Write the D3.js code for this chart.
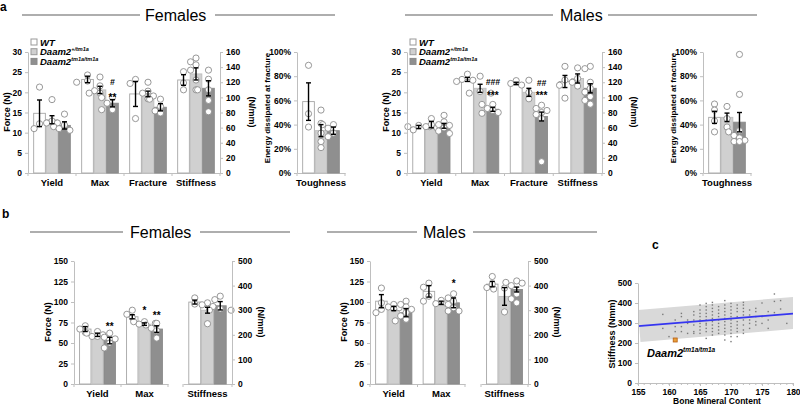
<!DOCTYPE html>
<html><head><meta charset="utf-8">
<script src="https://cdn.jsdelivr.net/npm/d3@7/dist/d3.min.js"></script>
<style>
body{margin:0;background:#fff}
svg{display:block}
text{font-family:"Liberation Sans",Arial,sans-serif}
</style>
</head><body>
<svg id="chart" width="800" height="405"></svg>
<script>
// ================= DATA =================
const genotypes = ["WT", "Daam2", "Daam2"];
const genotypeSup = ["", "+/tm1a", "tm1a/tm1a"];

const catsA = ["Yield", "Max", "Fracture", "Stiffness"];
const catsB = ["Yield", "Max"];
const catsStiff = ["Stiffness"];
const catsTough = ["Toughness"];

const forceTicksA = [0, 5, 10, 15, 20, 25, 30];
const stiffTicksA = [0, 20, 40, 60, 80, 100, 120, 140, 160];
const toughTicks = [0, 20, 40, 60, 80, 100];
const forceTicksB = [0, 25, 50, 75, 100, 125, 150];
const stiffTicksB = [0, 100, 200, 300, 400, 500];
const bmcTicks = [155, 160, 165, 170, 175, 180];
const stiffTicksC = [0, 100, 200, 300, 400, 500];

// ---- Panel a, Females (Yield/Max/Fracture in N, Stiffness in N/mm)
const aFemMean = [[14.8, 13.2, 11.8], [23.2, 20.6, 17.3], [19.6, 19.6, 16.3], [123, 131, 112]];
const aFemErr  = [[3.3, 1.0, 0.9], [0.8, 0.9, 0.9], [3.1, 0.7, 0.9], [7, 8, 10]];
const aFemPts  = [
  [[21.3, 12.2, 11.0], [18.2, 12.9, 12.4, 12.4], [14.6, 11.9, 11.5, 11.0, 10.6]],
  [[24.3, 22.5, 22.8], [23.8, 21.6, 20.4, 19.8, 19.8], [18.7, 18.7, 17.3, 15.7, 15.7]],
  [[23.2, 22.2, 13.5], [22.5, 20.3, 19.8, 19.1, 18.4], [18.3, 18.3, 16.5, 15.4, 14.9]],
  [[134, 119, 110], [152, 147, 143, 136, 123, 110], [136, 124, 110, 110, 96, 81]]
];
const aFemSig = [[1, 2, 22.6, "#"], [1, 2, 19.3, "**"]];
const aFemToughMean = [59, 35, 35];
const aFemToughErr  = [15.5, 5, 3];
const aFemToughPts  = [[89, 49, 38], [52, 41, 33, 26, 21], [40, 40, 37, 33, 30]];

// ---- Panel a, Males
const aMaleMean = [[11.4, 12.0, 11.7], [23.2, 21.0, 15.8], [22.2, 20.0, 14.0], [121, 125, 112]];
const aMaleErr  = [[0.4, 0.8, 0.6], [0.5, 1.0, 0.5], [0.3, 1.0, 1.1], [8, 6, 6]];
const aMalePts  = [
  [[11.8, 11.5, 10.7, 11.5], [13.5, 12.0, 11.5, 11.2], [14.3, 12.7, 12.0, 11.8, 11.2, 10.4, 9.8]],
  [[24.5, 23.2, 23.0, 22.7], [24.0, 20.2, 19.8, 19.8], [17.0, 17.0, 16.0, 15.5, 15.0, 14.8]],
  [[22.9, 22.2, 21.8], [23.0, 20.0, 18.4], [16.8, 16.0, 15.5, 15.0, 14.5, 13.5, 2.8]],
  [[141, 123, 116, 99], [139, 125, 120, 115], [141, 138, 120, 112, 107, 101, 96, 91]]
];
const aMaleSig = [[1, 2, 22.6, "###"], [1, 2, 19.8, "***"], [2, 2, 22.4, "##"], [2, 2, 19.8, "***"]];
const aMaleToughMean = [46, 46, 42];
const aMaleToughErr  = [5, 3.5, 8];
const aMaleToughPts  = [[57, 52, 43, 34], [55, 45, 38], [98, 65, 35, 34, 31, 29, 27, 26, 26]];

// ---- Panel b, Females (Yield/Max in N)
const bFemMean = [[67, 60, 53], [82, 73, 67]];
const bFemErr  = [[3, 2, 4], [2.5, 1.5, 4]];
const bFemPts  = [[[71, 67, 63], [64, 62, 60, 58, 58], [62, 57, 55, 50, 44]],
                  [[90, 85, 81], [76, 76, 74, 73], [74, 72, 68, 65, 56]]];
const bFemSig  = [[0, 2, 73, "**"], [1, 1, 93, "*"], [1, 2, 87, "**"]];
const bFemStiffMean = [333, 300, 318];
const bFemStiffErr  = [8, 12, 17];
const bFemStiffPts  = [[350, 325], [330, 322, 315, 245], [357, 343, 305, 300, 300]];

// ---- Panel b, Males
const bMaleMean = [[101, 92, 87], [113, 99, 99]];
const bMaleErr  = [[8, 2.5, 5], [7, 2, 6]];
const bMalePts  = [[[117, 99, 91, 87], [97, 94, 93, 92], [101, 97, 94, 91, 87, 83, 79, 77]],
                   [[123, 118, 107, 101], [102, 98, 98], [110, 105, 101, 97, 93, 89, 89]]];
const bMaleSig  = [[1, 2, 126, "*"]];
const bMaleStiffMean = [406, 356, 384];
const bMaleStiffErr  = [11, 36, 10];
const bMaleStiffPts  = [[437, 406, 392], [390, 386, 293], [419, 413, 410, 400, 366, 346, 330]];

// ---- Panel c (Bone Mineral Content vs stiffness)
const cScatter = [
  [159, [343, 273]], [160, [232]], [161, [315, 282, 257]],
  [162, [348, 332, 282, 257]], [163, [315, 298, 248]],
  [164, [357, 340, 315, 290, 257, 248]],
  [165, [390, 365, 348, 332, 315, 298, 282, 265, 248]],
  [166, [398, 382, 365, 348, 332, 315, 298, 290, 273, 257, 223]],
  [167, [403, 390, 373, 357, 340, 323, 307, 290, 273, 257, 240]],
  [168, [382, 365, 348, 332, 315, 298, 282, 265, 248]],
  [169, [412, 390, 373, 357, 340, 323, 307, 290, 273, 257, 240, 215]],
  [170, [398, 382, 365, 348, 332, 315, 298, 282, 265, 248, 232, 207]],
  [171, [390, 373, 357, 332, 307, 290, 273, 257, 232]],
  [172, [403, 390, 373, 357, 340, 315, 290, 265, 248]],
  [173, [365, 340, 315, 298, 273]],
  [174, [373, 357, 332, 307, 290]],
  [175, [400, 332, 298]], [176, [357, 315, 273]],
  [177, [445, 408, 352]], [178, [412, 370]], [179, [298]]
];
const cBandTop = [[155, 365], [180, 430]];
const cBandBottom = [[155.4, 205], [180, 270]];
const cFit = [[155, 284], [180, 347]];
const cMutant = [161, 215];

// ================= DRAWING =================
const svg = d3.select("#chart");
const FONT = '"Liberation Sans", Arial, sans-serif';
const fills = ["#ffffff", "#d0d0d0", "#8f8f8f"];
const strokes = ["#a6a6a6", "#bdbdbd", "#8a8a8a"];
const AX = "#bfbfbf";

function styleAxis(g, size) {
  g.attr("font-family", FONT).attr("font-size", size).attr("font-weight", "bold");
  g.selectAll(".domain").attr("stroke", AX);
  g.selectAll(".tick line").attr("stroke", AX);
  g.selectAll(".tick text").attr("fill", "#000");
}

function leftAxis(x, y, ticks, fmt) {
  const g = svg.append("g").attr("transform", `translate(${x},0)`)
    .call(d3.axisLeft(y).tickValues(ticks).tickSize(3).tickSizeOuter(0).tickPadding(3).tickFormat(fmt || d3.format("d")));
  styleAxis(g, 8.5);
}
function rightAxis(x, y, ticks) {
  const g = svg.append("g").attr("transform", `translate(${x},0)`)
    .call(d3.axisRight(y).tickValues(ticks).tickSize(3).tickSizeOuter(0).tickPadding(3));
  styleAxis(g, 8.5);
}
function catAxis(band, y0, fs) {
  const g = svg.append("g").attr("transform", `translate(0,${y0})`)
    .call(d3.axisBottom(band).tickSize(0).tickSizeOuter(0).tickPadding(6.5));
  styleAxis(g, fs || 9.5);
  const step = band.step();
  const r = band.range();
  const n = band.domain().length;
  for (let i = 0; i <= n; i++) {
    const xx = r[0] + i * step;
    g.append("line").attr("x1", xx).attr("x2", xx).attr("y1", 0).attr("y2", 3).attr("stroke", AX);
  }
}
function yTitle(x, y, text, rot, fs) {
  svg.append("text").attr("transform", `translate(${x},${y}) rotate(${rot})`)
    .attr("text-anchor", "middle").attr("font-size", fs || 9).attr("font-weight", "bold")
    .attr("dy", "0.35em").text(text);
}

function dodge(vals, y, cx, r) {
  const placed = [];
  const offs = [0, -1, 1, -2, 2].map(o => o * r * 1.75);
  vals.slice().sort((a, b) => b - a).forEach(v => {
    const py = y(v);
    for (const o of offs) {
      if (placed.every(p => Math.hypot(p.x - (cx + o), p.y - py) >= r * 1.85)) {
        placed.push({ x: cx + o, y: py }); return;
      }
    }
    placed.push({ x: cx, y: py });
  });
  return placed;
}

function drawBars(band, yFor, cats, means, errs, pts) {
  const sub = d3.scaleBand().domain([0, 1, 2]).range([0, band.bandwidth()]);
  const g = svg.append("g");
  cats.forEach((c, ci) => {
    const y = yFor(ci);
    for (let k = 0; k < 3; k++) {
      const x = band(c) + sub(k), w = sub.bandwidth(), m = means[ci][k];
      g.append("rect").attr("x", x + 0.4).attr("y", y(m)).attr("width", w - 0.8)
        .attr("height", y(0) - y(m)).attr("fill", fills[k]).attr("stroke", strokes[k]).attr("stroke-width", 0.9);
    }
    for (let k = 0; k < 3; k++) {
      const cx = band(c) + sub(k) + sub.bandwidth() / 2;
      dodge(pts[ci][k], y, cx, 3.1).forEach(p => {
        g.append("circle").attr("cx", p.x).attr("cy", p.y).attr("r", 3.1)
          .attr("fill", "#fff").attr("stroke", "#8c8c8c").attr("stroke-width", 0.9);
      });
    }
    for (let k = 0; k < 3; k++) {
      const cx = band(c) + sub(k) + sub.bandwidth() / 2;
      const m = means[ci][k], e = errs[ci][k];
      const y1 = y(m + e), y2 = y(m - e);
      g.append("line").attr("x1", cx).attr("x2", cx).attr("y1", y1).attr("y2", y2).attr("stroke", "#000").attr("stroke-width", 1.4);
      [y1, y2].forEach(yy => g.append("line").attr("x1", cx - 2.5).attr("x2", cx + 2.5).attr("y1", yy).attr("y2", yy).attr("stroke", "#000").attr("stroke-width", 1.4));
    }
  });
  return sub;
}

function drawSig(band, sub, yFor, sig) {
  sig.forEach(([ci, k, v, t]) => {
    const c = band.domain()[ci];
    const cx = band(c) + sub(k) + sub.bandwidth() / 2;
    const y = yFor(ci)(v);
    const isStar = t.indexOf("*") >= 0;
    svg.append("text").attr("x", cx).attr("y", y + (isStar ? 6 : 3.5))
      .attr("text-anchor", "middle").attr("font-size", isStar ? 10 : 8.5).attr("font-weight", "bold")
      .attr("font-style", isStar ? "normal" : "italic").text(t);
  });
}

function legend(x, y0) {
  genotypes.forEach((gname, k) => {
    const yy = y0 + k * 9.7;
    svg.append("rect").attr("x", x).attr("y", yy - 3).attr("width", 6).attr("height", 6)
      .attr("fill", fills[k]).attr("stroke", strokes[k] === "#8a8a8a" ? "#8a8a8a" : "#999");
    const t = svg.append("text").attr("x", x + 9).attr("y", yy + 3.6).attr("font-size", 9.5)
      .attr("font-weight", "bold").attr("font-style", "italic");
    t.append("tspan").text(gname);
    if (genotypeSup[k]) t.append("tspan").attr("font-size", 5.5).attr("dy", -4).text(genotypeSup[k]);
  });
}

function title(y, l1, l2, tx, text, r1, r2) {
  svg.append("line").attr("x1", l1).attr("x2", l2).attr("y1", y).attr("y2", y).attr("stroke", "#5f5f5f").attr("stroke-width", 1.1);
  svg.append("line").attr("x1", r1).attr("x2", r2).attr("y1", y).attr("y2", y).attr("stroke", "#5f5f5f").attr("stroke-width", 1.1);
  svg.append("text").attr("x", tx).attr("y", y + 5.5).attr("font-size", 16).text(text);
}
function panelLabel(x, y, t) {
  svg.append("text").attr("x", x).attr("y", y).attr("font-size", 12).attr("font-weight", "bold").text(t);
}

// --------- Panel a ---------
panelLabel(0, 11, "a");
title(15, 22, 140, 145, "Females", 215, 335);
title(15, 405, 553, 560, "Males", 608, 757);

function panelA(x0, x1, tx0, means, errs, pts, sig, tMean, tErr, tPts) {
  const yF = d3.scaleLinear().domain([0, 30]).range([173, 52]);
  const yS = d3.scaleLinear().domain([0, 160]).range([173, 52]);
  const band = d3.scaleBand().domain(catsA).range([x0, x1]).paddingInner(0.22).paddingOuter(0.11);
  const yFor = ci => ci === 3 ? yS : yF;
  catAxis(band, 173);
  const sub = drawBars(band, yFor, catsA, means, errs, pts);
  leftAxis(x0, yF, forceTicksA);
  rightAxis(x1, yS, stiffTicksA);
  drawSig(band, sub, yFor, sig);
  yTitle(x0 - 21, 112, "Force (N)", -90, 9);
  yTitle(x1 + 32, 112, "(N/mm)", 90, 9);
  legend(x0 + 3, 42);
  const yT = d3.scaleLinear().domain([0, 100]).range([173, 52]);
  const tb = d3.scaleBand().domain(catsTough).range([tx0, tx0 + 48]).paddingInner(0.22).paddingOuter(0.11);
  catAxis(tb, 173);
  drawBars(tb, () => yT, catsTough, [tMean], [tErr], [tPts]);
  leftAxis(tx0, yT, toughTicks, d => d + "%");
  yTitle(tx0 - 30, 108, "Energy dissipated at fracture", -90, 8);
}
panelA(28, 220, 297, aFemMean, aFemErr, aFemPts, aFemSig, aFemToughMean, aFemToughErr, aFemToughPts);
panelA(407, 602, 703, aMaleMean, aMaleErr, aMalePts, aMaleSig, aMaleToughMean, aMaleToughErr, aMaleToughPts);

// --------- Panel b ---------
panelLabel(2, 218, "b");
title(232, 30, 123, 130, "Females", 200, 290);
title(232, 327, 417, 423, "Males", 473, 597);

function panelB(x0, x1, s0, s1, means, errs, pts, sig, sMean, sErr, sPts) {
  const yF = d3.scaleLinear().domain([0, 150]).range([384, 261]);
  const yS = d3.scaleLinear().domain([0, 500]).range([384, 261]);
  const band = d3.scaleBand().domain(catsB).range([x0, x1]).paddingInner(0.22).paddingOuter(0.11);
  catAxis(band, 384);
  const sub = drawBars(band, () => yF, catsB, means, errs, pts);
  leftAxis(x0, yF, forceTicksB);
  drawSig(band, sub, () => yF, sig);
  yTitle(x0 - 26, 322, "Force (N)", -90, 9);
  const sb = d3.scaleBand().domain(catsStiff).range([s0, s1]).paddingInner(0.22).paddingOuter(0.08);
  catAxis(sb, 384);
  drawBars(sb, () => yS, catsStiff, [sMean], [sErr], [sPts]);
  rightAxis(s1, yS, stiffTicksB);
  yTitle(s1 + 29, 322, "(N/mm)", 90, 9);
}
panelB(74, 168, 183, 232, bFemMean, bFemErr, bFemPts, bFemSig, bFemStiffMean, bFemStiffErr, bFemStiffPts);
panelB(370, 465, 481, 528, bMaleMean, bMaleErr, bMalePts, bMaleSig, bMaleStiffMean, bMaleStiffErr, bMaleStiffPts);

// --------- Panel c ---------
panelLabel(652, 249, "c");
(function () {
  const x = d3.scaleLinear().domain([155, 180]).range([638, 793]);
  const y = d3.scaleLinear().domain([0, 500]).range([383, 283]);
  const band = [cBandTop[0], cBandTop[1], cBandBottom[1], cBandBottom[0]];
  svg.append("path").attr("d", d3.line().x(d => x(d[0])).y(d => y(d[1]))(band) + "Z")
    .attr("fill", "#d9d9d9");
  const g = svg.append("g");
  cScatter.forEach(([bx, ys]) => ys.forEach(v => {
    g.append("rect").attr("x", x(bx) - 0.7).attr("y", y(v) - 0.7).attr("width", 1.4).attr("height", 1.4).attr("fill", "#7a7a7a");
  }));
  svg.append("path").attr("d", d3.line().x(d => x(d[0])).y(d => y(d[1]))(cFit))
    .attr("stroke", "#3535f0").attr("stroke-width", 1.8).attr("fill", "none");
  svg.append("rect").attr("x", x(cMutant[0]) - 2).attr("y", y(cMutant[1]) - 2).attr("width", 4).attr("height", 4)
    .attr("fill", "#e8a03a").attr("stroke", "#b85c10").attr("stroke-width", 0.8);
  const gx = svg.append("g").attr("transform", "translate(0,383)")
    .call(d3.axisBottom(x).tickValues(bmcTicks).tickSize(3).tickSizeOuter(0).tickPadding(2.5));
  styleAxis(gx, 8.5);
  gx.append("g").selectAll("line").data(d3.range(155, 181)).join("line")
    .attr("x1", d => x(d)).attr("x2", d => x(d)).attr("y1", 0).attr("y2", 2).attr("stroke", AX);
  const gy = svg.append("g").attr("transform", "translate(638,0)")
    .call(d3.axisLeft(y).tickValues(stiffTicksC).tickSize(3).tickSizeOuter(0).tickPadding(3));
  styleAxis(gy, 8.5);
  svg.append("text").attr("x", 717).attr("y", 404).attr("text-anchor", "middle").attr("font-size", 8.5)
    .attr("font-weight", "bold").text("Bone Mineral Content");
  yTitle(612, 334, "Stiffness (Nmm)", -90, 9);
  const t = svg.append("text").attr("x", 647).attr("y", 357).attr("font-size", 11)
    .attr("font-weight", "bold").attr("font-style", "italic");
  t.append("tspan").text("Daam2");
  t.append("tspan").attr("font-size", 6.5).attr("dy", -5).text("tm1a/tm1a");
})();
</script>
</body></html>
